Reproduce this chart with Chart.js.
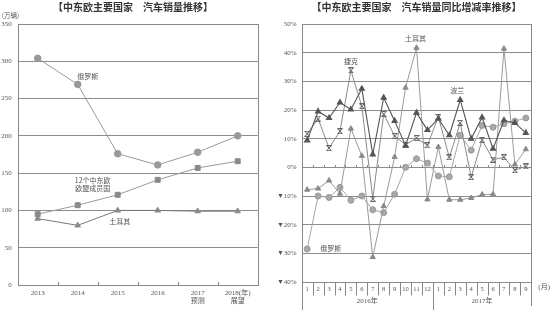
<!DOCTYPE html>
<html><head><meta charset="utf-8">
<script src="https://cdn.jsdelivr.net/npm/chart.js@4.4.1/dist/chart.umd.min.js"></script>
<style>
html,body{margin:0;padding:0;background:#fff;width:550px;height:310px;overflow:hidden}
#c1{position:absolute;left:0;top:0}
#c2{position:absolute;left:275px;top:0}
</style></head><body>
<canvas id="c1" width="275" height="310"></canvas>
<canvas id="c2" width="275" height="310"></canvas>
<script>
// ---- Left chart data: sales (万辆) ----
const years = ['2013','2014','2015','2016',['2017','预测'],['2018(年)','展望']];
const salesRussia = [304, 269, 176, 161, 178, 200];
const salesEU12   = [95, 107, 121, 141, 157, 166];
const salesTurkey = [89, 80, 100, 100, 99, 99];

// ---- Right chart data: YoY growth (%) ----
const months = ['1','2','3','4','5','6','7','8','9','10','11','12','1','2','3','4','5','6','7','8','9'];
const yearGroups = ['2016年','2017年'];
const yearGroupSizes = [12, 9];
const yoyRussia = [-28.5,-10,-10.5,-7,-11.5,-10,-14.8,-15.8,-9.4,0,3,1.5,-3,-3.3,11.2,6,14.6,14,15.2,16.1,17.2];
const yoyTurkey = [-7.8,-7.4,-4.6,-9.2,13.5,4,-31.3,-13.5,3.6,27.8,41.7,-11.2,7.1,-11.3,-11.3,-10.7,-9.5,-9.4,41.4,1,6.3];
const yoyCzech  = [11.7,17,6.7,12.6,33.8,21.3,-11,18.6,10.9,7.9,10.2,7.7,17.6,3.5,15.5,-3.4,9.5,2.7,3.5,-1,0.3];
const yoyPoland = [9.4,19.5,17.2,22.6,20.2,27.4,4.5,24.3,16.2,7.6,19,13,17,11.2,23.5,10,17.4,6.5,16.4,15.5,12];

const SERIF = "'Liberation Serif','Noto Sans CJK SC',serif";
const CJK = "'Noto Sans CJK SC','Noto Sans',sans-serif";

function hourglassX(color, s){
  const c=document.createElement('canvas'); c.width=s; c.height=s;
  const g=c.getContext('2d'); g.strokeStyle=color; g.lineWidth=1;
  g.beginPath();
  g.moveTo(0.5,0.5); g.lineTo(s-0.5,s-0.5);
  g.moveTo(s-0.5,0.5); g.lineTo(0.5,s-0.5);
  g.moveTo(0.5,0.5); g.lineTo(s-0.5,0.5);
  g.moveTo(0.5,s-0.5); g.lineTo(s-0.5,s-0.5);
  g.stroke(); return c;
}

function textPlugin(id, items){
  return { id, afterDraw(chart){
    const ctx=chart.ctx; ctx.save();
    items.forEach(it=>{
      let x=it.x, y=it.y;
      if(it.ds!==undefined){ const p=chart.getDatasetMeta(it.ds).data[it.i]; x=p.x+it.dx; y=p.y+it.dy; }
      ctx.font=it.font; ctx.fillStyle=it.color||'#555';
      ctx.textAlign=it.align||'center'; ctx.textBaseline='middle';
      ctx.fillText(it.text,x,y);
    });
    ctx.restore();
  }};
}

// ---------------- Left chart ----------------
const framePlugin1 = { id:'frame1', afterDatasetsDraw(chart){
  const {ctx, chartArea:a, scales} = chart; ctx.save();
  ctx.strokeStyle='#888'; ctx.lineWidth=1;
  ctx.strokeRect(Math.round(a.left)+0.5, Math.round(a.top)+0.5, Math.round(a.right-a.left), Math.round(a.bottom-a.top));
  const xs=scales.x; const n=years.length; const step=(xs.getPixelForValue(1)-xs.getPixelForValue(0));
  ctx.beginPath();
  for(let i=1;i<n;i++){ const x=Math.round(xs.getPixelForValue(i)-step/2)+0.5; ctx.moveTo(x,a.bottom); ctx.lineTo(x,a.bottom-3); }
  ctx.stroke(); ctx.restore();
}};

new Chart(document.getElementById('c1'), {
  type:'line',
  data:{ labels: years, datasets:[
    {data:salesRussia, borderColor:'#9a9a9a', borderWidth:1, pointStyle:'circle', pointRadius:3.3, pointBackgroundColor:'#999', pointBorderColor:'#999', tension:0},
    {data:salesEU12, borderColor:'#9a9a9a', borderWidth:1, pointStyle:'rect', pointRadius:3.5, pointBackgroundColor:'#8a8a8a', pointBorderColor:'#8a8a8a', tension:0},
    {data:salesTurkey, borderColor:'#777', borderWidth:1, pointStyle:'triangle', pointRadius:3.2, pointBackgroundColor:'#8a8a8a', pointBorderColor:'#8a8a8a', tension:0}
  ]},
  options:{
    responsive:false, animation:false, devicePixelRatio:1,
    layout:{padding:{left:0, top:24, right:17.3, bottom:0}},
    plugins:{legend:{display:false}, tooltip:{enabled:false}},
    scales:{
      x:{ type:'category', offset:true, grid:{display:false, drawTicks:false}, border:{display:false},
          ticks:{font:{size:7, family:SERIF}, color:'#555', padding:3.5, maxRotation:0, autoSkip:false},
          afterFit(s){ s.height=25; } },
      y:{ min:0, max:350, ticks:{stepSize:50, font:{size:7, family:SERIF}, color:'#555', padding:6},
          grid:{color:'#8c8c8c', drawTicks:false, lineWidth:1}, border:{display:false},
          afterFit(s){ s.width=17.7; } }
    }
  },
  plugins:[framePlugin1, textPlugin('txt1', [
    {x:133, y:7, text:'【中东欧主要国家　汽车销量推移】', font:'bold 10px '+CJK, color:'#333'},
    {x:10.5, y:16, text:'(万辆)', font:'6.5px '+CJK, color:'#555'},
    {ds:0, i:1, dx:10, dy:-8, text:'俄罗斯', font:'7px '+CJK, color:'#555'},
    {ds:1, i:1, dx:15, dy:-25, text:'12个中东欧', font:'7px '+CJK, color:'#555'},
    {ds:1, i:1, dx:15, dy:-16.5, text:'欧盟成员国', font:'7px '+CJK, color:'#555'},
    {ds:2, i:2, dx:2, dy:11, text:'土耳其', font:'7px '+CJK, color:'#555'}
  ])]
});

// ---------------- Right chart ----------------
const framePlugin2 = { id:'frame2', afterDatasetsDraw(chart){
  const {ctx, chartArea:a, scales} = chart; ctx.save();
  const xs=scales.x, ys=scales.y;
  const step=(xs.getPixelForValue(1)-xs.getPixelForValue(0));
  const L=Math.round(a.left)+0.5, R=Math.round(a.right)+0.5, B=Math.round(a.bottom)+0.5;
  ctx.strokeStyle='#888'; ctx.lineWidth=1;
  ctx.beginPath();
  ctx.moveTo(L, a.top); ctx.lineTo(L, 310);
  ctx.moveTo(R, a.top); ctx.lineTo(R, 306);
  for(let i=1;i<months.length;i++){ const x=Math.round(xs.getPixelForValue(i)-step/2)+0.5; ctx.moveTo(x,B); ctx.lineTo(x,B+13); }
  let s=0;
  for(let g=0; g<yearGroups.length-1; g++){ s+=yearGroupSizes[g]; const x=Math.round(xs.getPixelForValue(s)-step/2)+0.5; ctx.moveTo(x,B); ctx.lineTo(x,310); }
  const z=Math.round(ys.getPixelForValue(0))+0.5;
  for(let i=1;i<months.length;i++){ const x=Math.round(xs.getPixelForValue(i)-step/2)+0.5; ctx.moveTo(x,z); ctx.lineTo(x,z-2.5); }
  ctx.stroke();
  ctx.font='7px '+SERIF; ctx.fillStyle='#555'; ctx.textAlign='center'; ctx.textBaseline='middle';
  s=0;
  yearGroups.forEach((lab,g)=>{
    const l=xs.getPixelForValue(s)-step/2, r=xs.getPixelForValue(s+yearGroupSizes[g]-1)+step/2;
    ctx.fillText(lab,(l+r)/2,301.5); s+=yearGroupSizes[g];
  });
  ctx.textAlign='left'; ctx.fillText('(月)', a.right+7, 287.5);
  ctx.restore();
}};

new Chart(document.getElementById('c2'), {
  type:'line',
  data:{ labels: months, datasets:[
    {data:yoyPoland, borderColor:'#555', borderWidth:1.1, pointStyle:'triangle', pointRadius:3, pointBackgroundColor:'#555', pointBorderColor:'#555', tension:0},
    {data:yoyCzech, borderColor:'#8a8a8a', borderWidth:1, pointStyle:hourglassX('#666',6), pointRadius:3, tension:0},
    {data:yoyTurkey, borderColor:'#9a9a9a', borderWidth:1, pointStyle:'triangle', pointRadius:3, pointBackgroundColor:'#8a8a8a', pointBorderColor:'#8a8a8a', tension:0},
    {data:yoyRussia, borderColor:'#a5a5a5', borderWidth:1, pointStyle:'circle', pointRadius:3, pointBackgroundColor:'#a8a8a8', pointBorderColor:'#999', tension:0}
  ]},
  options:{
    responsive:false, animation:false, devicePixelRatio:1,
    layout:{padding:{left:0, top:24, right:18.7, bottom:0}},
    plugins:{legend:{display:false}, tooltip:{enabled:false}},
    scales:{
      x:{ type:'category', offset:true, grid:{display:false, drawTicks:false}, border:{display:false},
          ticks:{font:{size:6.5, family:SERIF}, color:'#555', padding:3, maxRotation:0, autoSkip:false},
          afterFit(s){ s.height=28; } },
      y:{ min:-40, max:50, ticks:{stepSize:10, font:{size:7, family:SERIF}, color:'#555', padding:5,
            callback:v=> v<0 ? '▼'+(-v)+'%' : v+'%'},
          grid:{color:'#8c8c8c', drawTicks:false, lineWidth:1}, border:{display:false},
          afterFit(s){ s.width=26.7; } }
    }
  },
  plugins:[framePlugin2, textPlugin('txt2', [
    {x:141.5, y:7, text:'【中东欧主要国家　汽车销量同比增减率推移】', font:'bold 10px '+CJK, color:'#333'},
    {ds:1, i:4, dx:0, dy:-9, text:'捷克', font:'7px '+CJK, color:'#555'},
    {ds:2, i:10, dx:-1, dy:-9.5, text:'土耳其', font:'7px '+CJK, color:'#555'},
    {ds:0, i:14, dx:-3, dy:-9.5, text:'波兰', font:'7px '+CJK, color:'#555'},
    {ds:3, i:0, dx:13, dy:-1, text:'俄罗斯', font:'7px '+CJK, color:'#555', align:'left'}
  ])]
});
</script>
</body></html>
